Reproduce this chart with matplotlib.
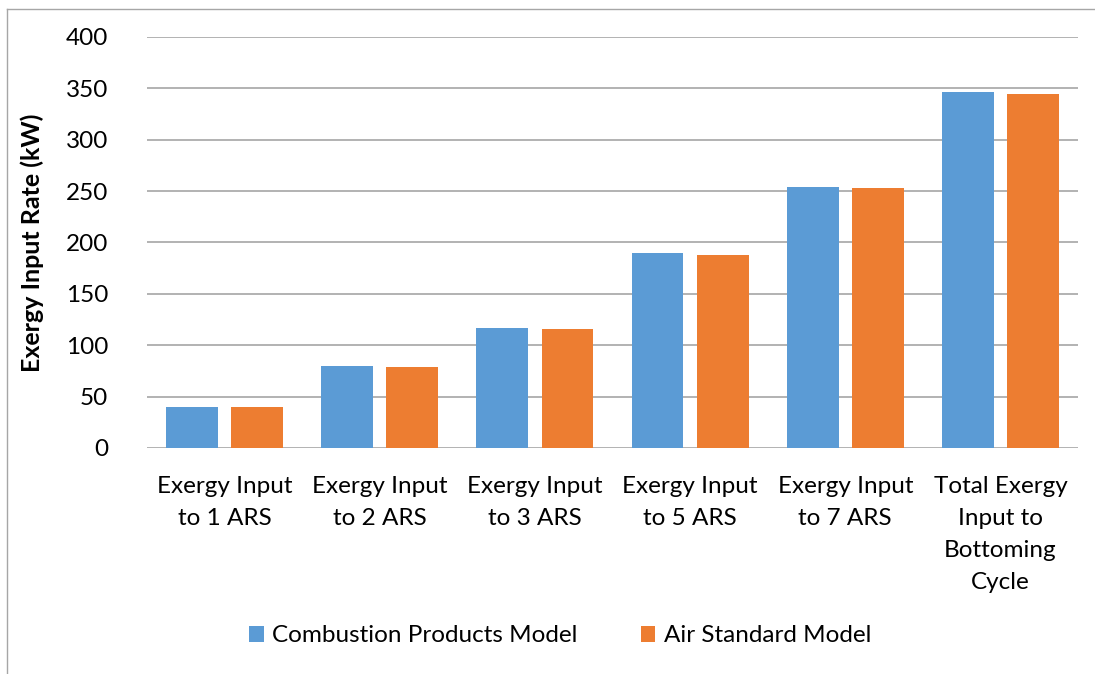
import numpy as np
import matplotlib.pyplot as plt
from matplotlib.lines import Line2D

plt.rcParams['font.family'] = ['Lato', 'DejaVu Sans']

categories = ['Exergy Input\nto 1 ARS', 'Exergy Input\nto 2 ARS', 'Exergy Input\nto 3 ARS',
              'Exergy Input\nto 5 ARS', 'Exergy Input\nto 7 ARS',
              'Total Exergy\nInput to\nBottoming\nCycle']
combustion = [40.2, 79.4, 117.2, 189.3, 254.5, 346.8]
air_standard = [39.9, 79.1, 116.2, 187.8, 253.2, 345.0]
series_names = ['Combustion Products Model', 'Air Standard Model']
colors = ['#5b9bd5', '#ed7d31']

fs = 17.5

fig = plt.figure(figsize=(10.95, 6.74), dpi=100)
ax = fig.add_axes([147 / 1095, 1 - 448 / 674, (1078 - 147) / 1095, (448 - 37) / 674])

# chart frame: only the top and left edges fall inside the image
top = 1 - 8.5 / 674
left = 7 / 1095
fig.lines.append(Line2D([left, 1], [top, top], transform=fig.transFigure,
                        color='#a6a6a6', lw=1))
fig.lines.append(Line2D([left, left], [0, top], transform=fig.transFigure,
                        color='#a6a6a6', lw=1))

x = np.arange(len(categories))
w = 0.335
off = 0.21
ax.bar(x - off, combustion, w, color=colors[0], label=series_names[0], zorder=3)
ax.bar(x + off, air_standard, w, color=colors[1], label=series_names[1], zorder=3)

ax.set_xlim(-0.5, len(categories) - 0.5)
ax.set_ylim(0, 400)
ax.set_yticks(np.arange(0, 401, 50))
ax.grid(axis='y', color='#a6a6a6', lw=1.2, zorder=0)
for s in ax.spines.values():
    s.set_visible(False)
ax.tick_params(axis='y', length=0, pad=28, labelsize=fs)
ax.tick_params(axis='x', length=0, pad=20, labelsize=fs)
ax.set_xticks(x)
ax.set_xticklabels(categories, linespacing=1.65)
ax.set_ylabel('Exergy Input Rate (kW)', fontsize=18, fontweight='bold', labelpad=16)

fig.legend(loc='center', bbox_to_anchor=(560 / 1095, 1 - 636 / 674), ncol=2,
           frameon=False, fontsize=fs, handlelength=0.6, handleheight=0.6,
           handletextpad=0.35, columnspacing=2.6)

fig.savefig('out.png', dpi=100)
